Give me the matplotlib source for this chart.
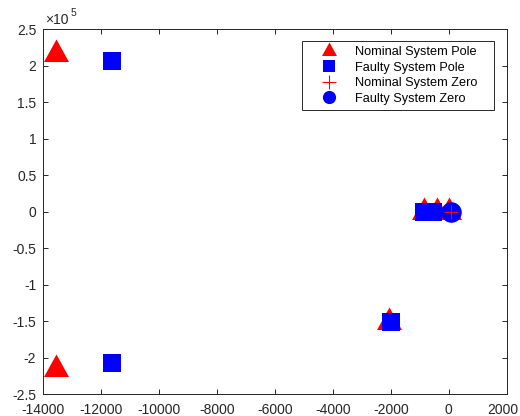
import numpy as np
import matplotlib
matplotlib.use("Agg")
import matplotlib.pyplot as plt
import matplotlib.transforms as mtransforms
from matplotlib.lines import Line2D

plt.rcParams['font.family'] = ['Liberation Sans', 'DejaVu Sans']
plt.rcParams['axes.unicode_minus'] = False

# 极点/零点位置（实部, 虚部）
nominal_pole_re = [-13550, -13550, -2070, -855, -405, 0]
nominal_pole_im = [2.155e5, -2.155e5, -1.516e5, 0, 0, 0]
faulty_pole_re = [-11640, -11640, -2010, -2010, -840, -530]
faulty_pole_im = [2.071e5, -2.071e5, 1.51e5, -1.51e5, 0, 0]
nominal_zero_re = [70]
nominal_zero_im = [0]
faulty_zero_re = [70]
faulty_zero_im = [0]

labels = ['Nominal System Pole', 'Faulty System Pole',
          'Nominal System Zero', 'Faulty System Zero']
xticks = np.arange(-14000, 2001, 2000)
yticks = np.arange(-2.5e5, 2.51e5, 0.5e5)

axis_color = '#262626'

# 三角形的重心放在数据点上
tri = [(0, 15.07), (-12.5, -7.53), (12.5, -7.53), (0, 15.07)]

fig = plt.figure(figsize=(5.2, 4.16), dpi=100)
ax = fig.add_axes([0.0833, 0.0522, 0.8911, 0.8774])

ax.plot(nominal_pole_re, nominal_pole_im, linestyle='none', marker=tri,
        markersize=21.7, color='red', markeredgewidth=0, zorder=3)
ax.plot(faulty_pole_re, faulty_pole_im, linestyle='none', marker='s',
        markersize=13.5, color='blue', markeredgewidth=0, zorder=3)
ax.plot(faulty_zero_re, faulty_zero_im, linestyle='none', marker='o',
        markersize=14.8, color='blue', markeredgewidth=0, zorder=3)
ax.plot(nominal_zero_re, nominal_zero_im, linestyle='none', marker='+',
        markersize=9.5, color='red', markeredgewidth=0.8, zorder=4)

ax.set_xlim(-14000, 2000)
ax.set_ylim(-2.5e5, 2.5e5)
ax.set_xticks(xticks)
ax.set_xticklabels([f'{v:d}' for v in xticks])
ax.set_yticks(yticks)
ax.set_yticklabels([f'{v / 1e5:g}' for v in yticks])

for sp in ax.spines.values():
    sp.set_color(axis_color)
    sp.set_linewidth(0.7)
ax.tick_params(direction='in', top=True, right=True, length=3.6, width=0.7,
               color=axis_color, labelcolor=axis_color, labelsize=10)
ax.tick_params(axis='x', pad=6.5)
ax.tick_params(axis='y', pad=5)

# 最右边的刻度标签稍微左移，避免被裁掉
last = ax.get_xticklabels()[-1]
last.set_transform(last.get_transform() +
                   mtransforms.ScaledTranslation(-3.5 / 100, 0, fig.dpi_scale_trans))

# 纵轴的科学计数法倍数
ax.annotate('×10', xy=(0.004, 1.015), xycoords='axes fraction',
            fontsize=10, color=axis_color, va='baseline', ha='left')
ax.annotate('5', xy=(0.004, 1.015), xycoords='axes fraction',
            xytext=(18.5, 5.5), textcoords='offset points',
            fontsize=7.5, color=axis_color, va='baseline', ha='left')

# 图例
handles = [
    Line2D([], [], linestyle='none', marker=tri, markersize=13,
           color='red', markeredgewidth=0),
    Line2D([], [], linestyle='none', marker='s', markersize=8.6,
           color='blue', markeredgewidth=0),
    Line2D([], [], linestyle='none', marker='+', markersize=9.5,
           color='red', markeredgewidth=0.8),
    Line2D([], [], linestyle='none', marker='o', markersize=9.5,
           color='blue', markeredgewidth=0),
]
x0 = (301.7 - 43.3) / 463.4
x1 = (494.3 - 43.3) / 463.4
y1 = (394.3 - 40.7) / 365
leg = ax.legend(handles, labels, loc='upper left',
                bbox_to_anchor=(x0, y1 - 0.3, x1 - x0, 0.3), mode='expand',
                borderaxespad=0, fontsize=9.2, frameon=True, fancybox=False,
                handlelength=3.5, handletextpad=0.25, labelspacing=0.28,
                borderpad=0.42)
leg.get_frame().set_edgecolor(axis_color)
leg.get_frame().set_linewidth(0.7)
leg.get_frame().set_alpha(1)
leg.set_zorder(10)

fig.savefig('out.png', dpi=100)
